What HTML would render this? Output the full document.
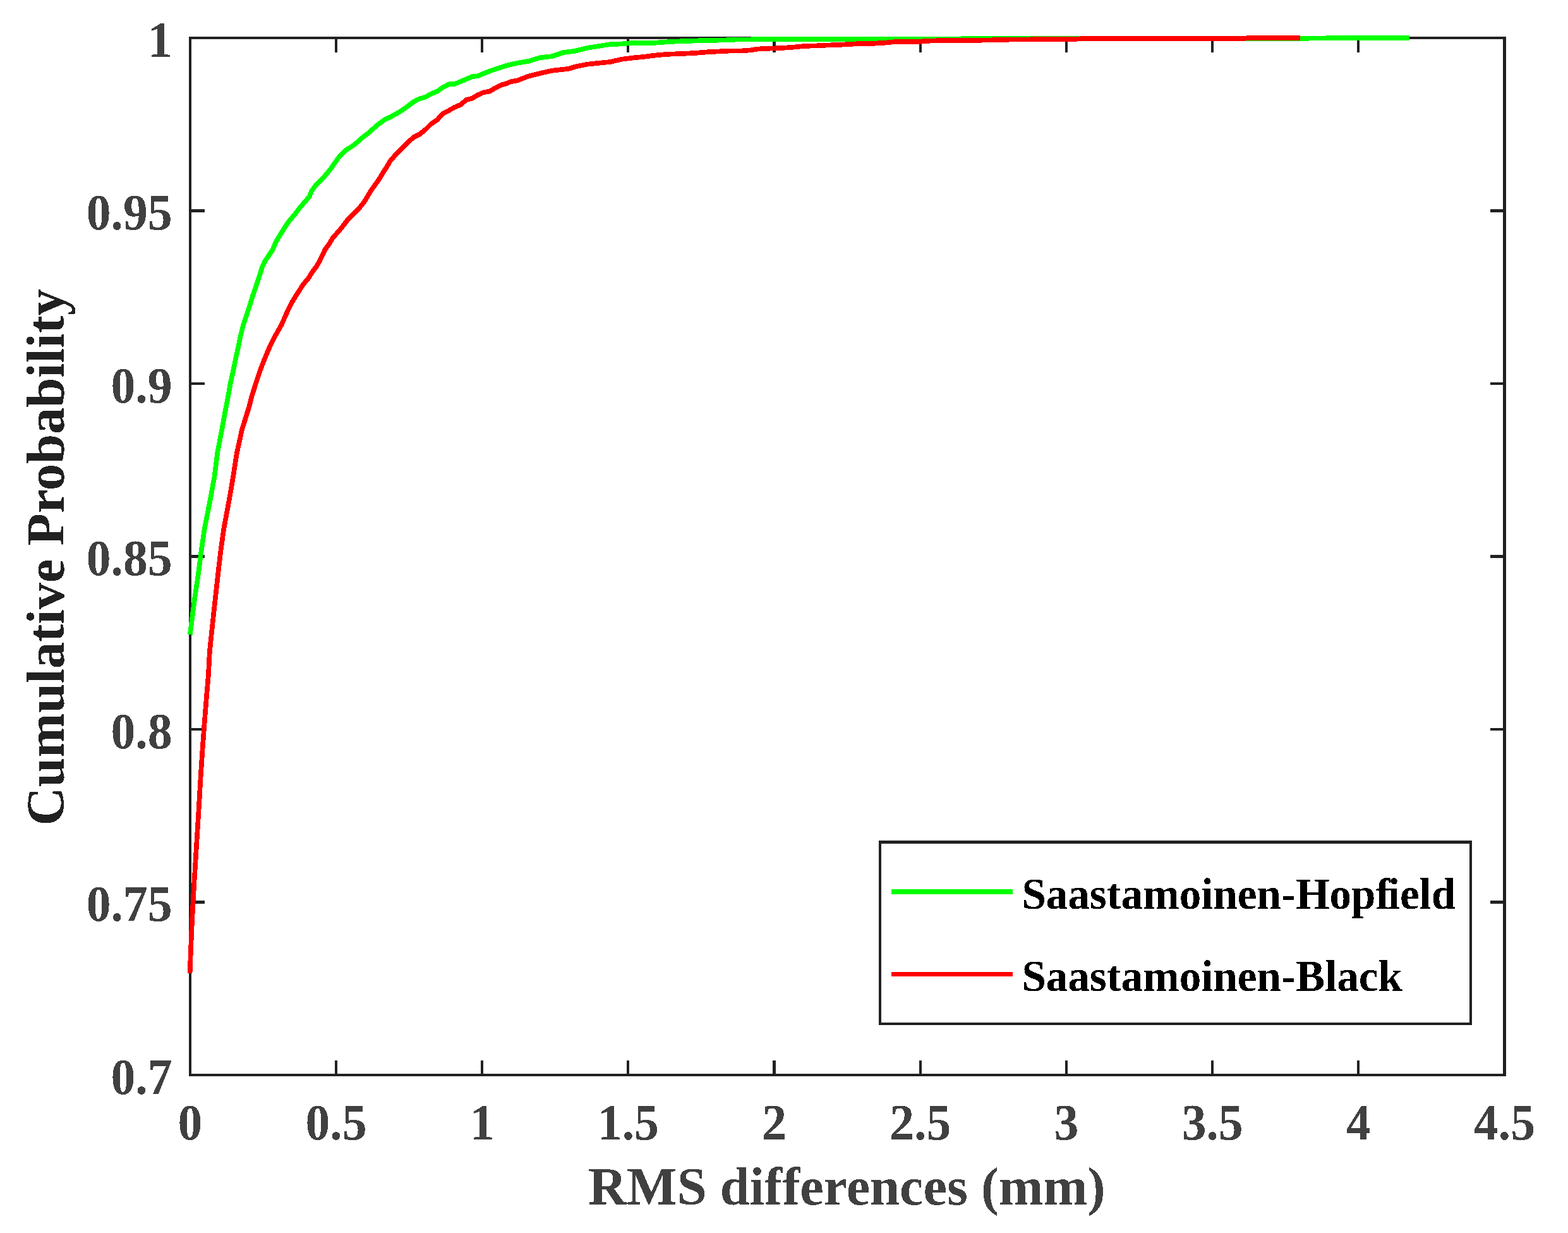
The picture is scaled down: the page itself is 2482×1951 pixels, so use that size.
<!DOCTYPE html>
<html lang="en"><head><meta charset="utf-8"><title>Cumulative Probability of RMS differences</title>
<style>html,body{margin:0;padding:0;background:#fff}body{width:2482px;height:1951px;overflow:hidden}svg{display:block}text{font-family:"Liberation Serif",serif;font-weight:bold}</style></head><body>
<svg width="2482" height="1951" viewBox="0 0 2482 1951">
<rect x="0" y="0" width="2482" height="1951" fill="#fff"/>
<defs><filter id="al" filterUnits="userSpaceOnUse" x="0" y="0" width="2482" height="1951" color-interpolation-filters="sRGB"><feComponentTransfer><feFuncA type="discrete" tableValues="0 1"/></feComponentTransfer></filter></defs>
<g fill="none" stroke="#212121" stroke-width="4.17" stroke-linecap="square" shape-rendering="crispEdges">
<rect x="300.8" y="60" width="2080.7" height="1641"/>
<path d="M531.99 1701 V1680.20 M531.99 60 V80.80 M763.18 1701 V1680.20 M763.18 60 V80.80 M994.37 1701 V1680.20 M994.37 60 V80.80 M1225.56 1701 V1680.20 M1225.56 60 V80.80 M1456.74 1701 V1680.20 M1456.74 60 V80.80 M1687.93 1701 V1680.20 M1687.93 60 V80.80 M1919.12 1701 V1680.20 M1919.12 60 V80.80 M2150.31 1701 V1680.20 M2150.31 60 V80.80 M300.8 333.50 H321.60 M2381.5 333.50 H2360.70 M300.8 607.00 H321.60 M2381.5 607.00 H2360.70 M300.8 880.50 H321.60 M2381.5 880.50 H2360.70 M300.8 1154.00 H321.60 M2381.5 1154.00 H2360.70 M300.8 1427.50 H321.60 M2381.5 1427.50 H2360.70"/>
</g>
<g fill="none" stroke-width="7.7" stroke-linejoin="round" stroke-linecap="butt" shape-rendering="crispEdges">
<polyline stroke="#00ff00" points="300.8,1004.2 302.1,994.0 308.1,947.4 313.6,910.6 318.3,873.8 323.7,837.0 332.8,790.4 339.6,753.6 344.1,716.8 351.2,680.0 357.8,644.0 361.5,625.1 364.7,606.6 368.9,588.2 372.6,569.8 376.7,551.4 380.4,533.0 385.0,514.6 391.0,496.2 394.3,487.0 400.0,468.1 406.4,449.6 412.4,431.2 415.2,422.0 419.6,412.8 426.0,403.6 432.0,394.4 435.7,385.2 440.7,376.0 446.5,366.8 452.2,357.6 458.7,348.4 466.7,339.2 473.5,330.0 489.7,311.1 493.4,301.9 500.3,292.6 509.9,283.4 517.8,274.2 525.1,265.0 531.3,255.8 538.0,246.6 547.7,237.4 553.7,233.7 562.0,228.2 572.1,219.0 584.0,209.8 594.2,200.6 600.0,195.7 609.2,189.3 618.4,184.9 627.6,179.8 636.8,174.3 646.0,167.6 655.2,160.7 664.4,156.1 673.6,153.6 682.8,148.3 692.0,144.6 701.2,138.2 710.4,133.3 719.6,132.9 728.9,129.2 738.1,125.3 747.3,121.2 756.5,120.2 765.7,116.3 774.9,112.6 784.1,109.4 793.3,106.4 800.0,104.2 818.4,99.8 836.8,96.8 855.2,91.1 873.6,89.2 892.0,83.0 910.4,80.7 928.9,75.9 947.3,73.1 965.7,70.1 984.1,69.5 1000.0,68.0 1036.8,67.7 1064.4,65.8 1092.0,64.8 1119.7,63.9 1147.3,63.5 1165.7,62.5 1200.0,62.3 1268.0,62.1 1400.0,61.8 1513.0,61.4 1600.0,60.9 2050.0,60.9 2131.0,60.0 2231.0,60.0"/>
<polyline stroke="#ff0000" points="300.6,1540.0 302.1,1501.2 303.7,1464.4 305.6,1427.6 307.2,1400.0 312.9,1308.0 315.8,1261.4 317.9,1224.6 320.4,1187.8 323.1,1151.0 326.8,1104.4 329.9,1067.6 331.9,1030.8 335.7,994.0 340.8,947.4 344.9,910.6 349.1,873.8 354.2,837.0 362.9,790.4 369.2,753.6 374.9,716.8 383.0,680.0 394.2,644.0 399.1,625.1 405.0,606.6 411.0,588.2 418.1,569.8 425.8,551.4 434.7,533.0 445.3,514.6 453.4,496.2 457.8,487.0 462.8,477.3 468.4,468.1 474.3,458.9 480.3,449.6 488.1,440.4 493.7,431.2 500.6,422.0 506.1,412.8 510.4,403.6 514.8,394.4 521.7,385.2 526.8,376.0 535.5,366.8 542.9,357.6 549.8,348.4 558.6,339.2 568.1,330.0 575.8,320.3 581.7,311.1 587.0,301.9 593.7,292.6 600.1,283.4 605.7,274.2 611.6,265.0 618.4,253.5 627.6,243.6 636.8,233.9 646.0,224.7 655.2,216.9 664.4,212.3 673.6,204.9 682.8,195.7 692.0,189.7 701.2,179.6 710.4,175.0 719.6,169.7 728.9,165.8 738.1,158.0 747.3,155.7 756.5,150.2 765.7,146.2 774.9,144.6 784.1,139.1 793.3,134.5 800.0,132.8 809.2,129.0 818.4,127.6 836.8,120.5 855.2,115.9 873.6,111.8 892.0,109.7 901.2,108.6 910.4,105.5 928.9,101.8 947.3,99.8 965.7,98.0 984.1,93.8 1000.0,91.7 1018.4,89.9 1036.8,87.6 1055.2,85.9 1082.8,84.8 1101.2,83.9 1119.7,82.3 1138.1,81.4 1156.5,80.5 1174.9,80.4 1188.7,79.3 1200.0,77.5 1218.4,76.7 1236.8,76.0 1255.2,74.7 1273.6,72.9 1292.0,72.4 1310.4,71.5 1328.8,70.9 1347.3,69.8 1365.7,68.7 1384.1,68.7 1400.0,67.7 1418.4,66.0 1455.2,65.9 1464.4,64.9 1492.0,64.0 1538.0,64.0 1556.5,63.6 1588.7,63.0 1600.0,62.5 1622.0,62.4 1700.0,62.0 1714.0,61.0 1970.0,61.0 1976.0,60.0 2058.0,60.0"/>
</g>
<g filter="url(#al)">
<g fill="#404040" font-size="77.6">
<text transform="translate(300.80 1802.8) scale(1 1.025)" text-anchor="middle">0</text>
<text transform="translate(531.99 1802.8) scale(1 1.025)" text-anchor="middle">0.5</text>
<text transform="translate(763.18 1802.8) scale(1 1.025)" text-anchor="middle">1</text>
<text transform="translate(994.37 1802.8) scale(1 1.025)" text-anchor="middle">1.5</text>
<text transform="translate(1225.56 1802.8) scale(1 1.025)" text-anchor="middle">2</text>
<text transform="translate(1456.74 1802.8) scale(1 1.025)" text-anchor="middle">2.5</text>
<text transform="translate(1687.93 1802.8) scale(1 1.025)" text-anchor="middle">3</text>
<text transform="translate(1919.12 1802.8) scale(1 1.025)" text-anchor="middle">3.5</text>
<text transform="translate(2150.31 1802.8) scale(1 1.025)" text-anchor="middle">4</text>
<text transform="translate(2381.50 1802.8) scale(1 1.025)" text-anchor="middle">4.5</text>
<text transform="translate(272.5 89.90) scale(1 1.025)" text-anchor="end">1</text>
<text transform="translate(272.5 363.40) scale(1 1.025)" text-anchor="end">0.95</text>
<text transform="translate(272.5 636.90) scale(1 1.025)" text-anchor="end">0.9</text>
<text transform="translate(272.5 910.40) scale(1 1.025)" text-anchor="end">0.85</text>
<text transform="translate(272.5 1183.90) scale(1 1.025)" text-anchor="end">0.8</text>
<text transform="translate(272.5 1457.40) scale(1 1.025)" text-anchor="end">0.75</text>
<text transform="translate(272.5 1730.90) scale(1 1.025)" text-anchor="end">0.7</text>
</g>
<text x="1340.4" y="1906" text-anchor="middle" font-size="84.4" fill="#404040">RMS differences (mm)</text>
<text transform="translate(100.6 881.8) rotate(-90)" text-anchor="middle" font-size="84.4" fill="#212121">Cumulative Probability</text>
</g>
<rect x="1391" y="1330" width="939" height="292" fill="#212121" shape-rendering="crispEdges"/>
<rect x="1395" y="1335" width="931" height="283" fill="#fff" shape-rendering="crispEdges"/>
<path d="M1411 1411 H1603" stroke="#00ff00" stroke-width="8" fill="none" shape-rendering="crispEdges"/>
<path d="M1411 1541.5 H1603" stroke="#ff0000" stroke-width="7" fill="none" shape-rendering="crispEdges"/>
<g fill="#000" font-size="69.05" filter="url(#al)">
<text x="1617.4" y="1438.4">Saastamoinen-Hopf<tspan dx="-3.8">ield</tspan></text>
<text x="1617.4" y="1568.4">Saastamoinen-Black</text>
</g>
</svg></body></html>
